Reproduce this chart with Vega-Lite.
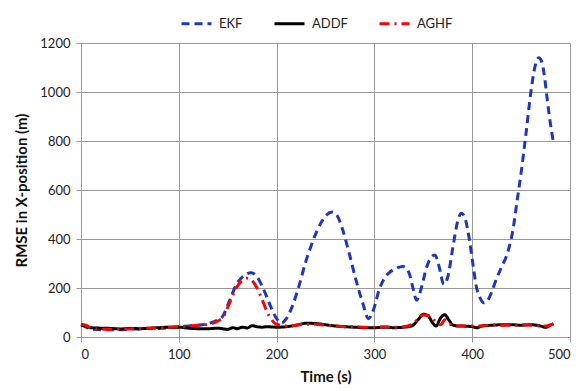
{
  "$schema": "https://vega.github.io/schema/vega-lite/v6.json",
  "autosize": "none",
  "width": 489,
  "height": 294,
  "padding": {"left": 81, "top": 43, "right": 15, "bottom": 54},
  "background": "white",
  "config": {
    "font": "Lato",
    "view": {"stroke": null},
    "axis": {
      "gridColor": "#999999",
      "gridWidth": 1,
      "domainColor": "#999999",
      "tickColor": "#999999",
      "tickSize": 5,
      "labelFontSize": 13,
      "labelColor": "#222222",
      "titleFontSize": 15,
      "titleFontWeight": "bold",
      "titleColor": "#111111"
    }
  },
  "data": {
    "values": [
      {"t": 0, "v": 50, "s": "EKF"}, {"t": 5, "v": 40, "s": "EKF"}, {"t": 10, "v": 33, "s": "EKF"}, {"t": 20, "v": 30, "s": "EKF"},
      {"t": 30, "v": 30, "s": "EKF"}, {"t": 40, "v": 30, "s": "EKF"}, {"t": 50, "v": 32, "s": "EKF"}, {"t": 60, "v": 33, "s": "EKF"},
      {"t": 70, "v": 35, "s": "EKF"}, {"t": 80, "v": 35, "s": "EKF"}, {"t": 90, "v": 38, "s": "EKF"}, {"t": 100, "v": 42, "s": "EKF"},
      {"t": 110, "v": 45, "s": "EKF"}, {"t": 120, "v": 48, "s": "EKF"}, {"t": 130, "v": 55, "s": "EKF"}, {"t": 140, "v": 70, "s": "EKF"},
      {"t": 145, "v": 85, "s": "EKF"}, {"t": 152, "v": 150, "s": "EKF"}, {"t": 159, "v": 215, "s": "EKF"}, {"t": 166, "v": 248, "s": "EKF"},
      {"t": 174, "v": 262, "s": "EKF"}, {"t": 180, "v": 245, "s": "EKF"}, {"t": 185, "v": 210, "s": "EKF"}, {"t": 190, "v": 163, "s": "EKF"},
      {"t": 196, "v": 105, "s": "EKF"}, {"t": 200, "v": 75, "s": "EKF"}, {"t": 205, "v": 57, "s": "EKF"}, {"t": 210, "v": 75, "s": "EKF"},
      {"t": 216, "v": 125, "s": "EKF"}, {"t": 223, "v": 210, "s": "EKF"}, {"t": 230, "v": 310, "s": "EKF"}, {"t": 236, "v": 380, "s": "EKF"},
      {"t": 241, "v": 430, "s": "EKF"}, {"t": 246, "v": 470, "s": "EKF"}, {"t": 251, "v": 498, "s": "EKF"}, {"t": 257, "v": 510, "s": "EKF"},
      {"t": 262, "v": 495, "s": "EKF"}, {"t": 267, "v": 445, "s": "EKF"}, {"t": 274, "v": 345, "s": "EKF"}, {"t": 281, "v": 235, "s": "EKF"},
      {"t": 288, "v": 140, "s": "EKF"}, {"t": 294, "v": 75, "s": "EKF"}, {"t": 299, "v": 110, "s": "EKF"}, {"t": 305, "v": 195, "s": "EKF"},
      {"t": 310, "v": 238, "s": "EKF"}, {"t": 315, "v": 262, "s": "EKF"}, {"t": 322, "v": 280, "s": "EKF"}, {"t": 329, "v": 288, "s": "EKF"},
      {"t": 333, "v": 280, "s": "EKF"}, {"t": 336, "v": 255, "s": "EKF"}, {"t": 340, "v": 190, "s": "EKF"}, {"t": 343, "v": 150, "s": "EKF"},
      {"t": 348, "v": 200, "s": "EKF"}, {"t": 353, "v": 280, "s": "EKF"}, {"t": 358, "v": 325, "s": "EKF"}, {"t": 362, "v": 335, "s": "EKF"},
      {"t": 366, "v": 290, "s": "EKF"}, {"t": 371, "v": 215, "s": "EKF"}, {"t": 375, "v": 245, "s": "EKF"}, {"t": 380, "v": 360, "s": "EKF"},
      {"t": 385, "v": 470, "s": "EKF"}, {"t": 389, "v": 505, "s": "EKF"}, {"t": 393, "v": 480, "s": "EKF"}, {"t": 397, "v": 400, "s": "EKF"},
      {"t": 401, "v": 290, "s": "EKF"}, {"t": 404, "v": 210, "s": "EKF"}, {"t": 408, "v": 160, "s": "EKF"}, {"t": 412, "v": 140, "s": "EKF"},
      {"t": 416, "v": 150, "s": "EKF"}, {"t": 420, "v": 185, "s": "EKF"}, {"t": 425, "v": 240, "s": "EKF"}, {"t": 430, "v": 285, "s": "EKF"},
      {"t": 435, "v": 330, "s": "EKF"}, {"t": 438, "v": 370, "s": "EKF"}, {"t": 442, "v": 445, "s": "EKF"}, {"t": 445, "v": 530, "s": "EKF"},
      {"t": 450, "v": 670, "s": "EKF"}, {"t": 455, "v": 830, "s": "EKF"}, {"t": 460, "v": 1000, "s": "EKF"}, {"t": 464, "v": 1100, "s": "EKF"},
      {"t": 468, "v": 1140, "s": "EKF"}, {"t": 471, "v": 1125, "s": "EKF"}, {"t": 474, "v": 1060, "s": "EKF"}, {"t": 477, "v": 960, "s": "EKF"},
      {"t": 480, "v": 870, "s": "EKF"}, {"t": 483, "v": 795, "s": "EKF"},

      {"t": 0, "v": 48, "s": "ADDF"}, {"t": 5, "v": 45, "s": "ADDF"}, {"t": 10, "v": 38, "s": "ADDF"}, {"t": 20, "v": 36, "s": "ADDF"},
      {"t": 30, "v": 35, "s": "ADDF"}, {"t": 40, "v": 33, "s": "ADDF"}, {"t": 50, "v": 35, "s": "ADDF"}, {"t": 60, "v": 34, "s": "ADDF"},
      {"t": 70, "v": 36, "s": "ADDF"}, {"t": 80, "v": 38, "s": "ADDF"}, {"t": 90, "v": 40, "s": "ADDF"}, {"t": 100, "v": 40, "s": "ADDF"},
      {"t": 110, "v": 36, "s": "ADDF"}, {"t": 120, "v": 34, "s": "ADDF"}, {"t": 130, "v": 34, "s": "ADDF"}, {"t": 140, "v": 36, "s": "ADDF"},
      {"t": 150, "v": 31, "s": "ADDF"}, {"t": 155, "v": 38, "s": "ADDF"}, {"t": 160, "v": 34, "s": "ADDF"}, {"t": 165, "v": 40, "s": "ADDF"},
      {"t": 170, "v": 37, "s": "ADDF"}, {"t": 175, "v": 46, "s": "ADDF"}, {"t": 180, "v": 42, "s": "ADDF"}, {"t": 185, "v": 40, "s": "ADDF"},
      {"t": 190, "v": 42, "s": "ADDF"}, {"t": 200, "v": 40, "s": "ADDF"}, {"t": 210, "v": 42, "s": "ADDF"}, {"t": 220, "v": 48, "s": "ADDF"},
      {"t": 230, "v": 56, "s": "ADDF"}, {"t": 240, "v": 55, "s": "ADDF"}, {"t": 250, "v": 50, "s": "ADDF"}, {"t": 260, "v": 45, "s": "ADDF"},
      {"t": 270, "v": 42, "s": "ADDF"}, {"t": 280, "v": 40, "s": "ADDF"}, {"t": 290, "v": 38, "s": "ADDF"}, {"t": 300, "v": 38, "s": "ADDF"},
      {"t": 310, "v": 40, "s": "ADDF"}, {"t": 320, "v": 38, "s": "ADDF"}, {"t": 330, "v": 40, "s": "ADDF"}, {"t": 338, "v": 45, "s": "ADDF"},
      {"t": 345, "v": 72, "s": "ADDF"}, {"t": 350, "v": 93, "s": "ADDF"}, {"t": 355, "v": 86, "s": "ADDF"}, {"t": 360, "v": 55, "s": "ADDF"},
      {"t": 363, "v": 45, "s": "ADDF"}, {"t": 368, "v": 80, "s": "ADDF"}, {"t": 372, "v": 91, "s": "ADDF"}, {"t": 376, "v": 70, "s": "ADDF"},
      {"t": 380, "v": 50, "s": "ADDF"}, {"t": 385, "v": 45, "s": "ADDF"}, {"t": 395, "v": 44, "s": "ADDF"}, {"t": 400, "v": 42, "s": "ADDF"},
      {"t": 405, "v": 38, "s": "ADDF"}, {"t": 410, "v": 45, "s": "ADDF"}, {"t": 420, "v": 48, "s": "ADDF"}, {"t": 430, "v": 50, "s": "ADDF"},
      {"t": 440, "v": 50, "s": "ADDF"}, {"t": 450, "v": 48, "s": "ADDF"}, {"t": 460, "v": 50, "s": "ADDF"}, {"t": 470, "v": 45, "s": "ADDF"},
      {"t": 475, "v": 40, "s": "ADDF"}, {"t": 480, "v": 48, "s": "ADDF"}, {"t": 483, "v": 55, "s": "ADDF"},

      {"t": 0, "v": 52, "s": "AGHF"}, {"t": 5, "v": 48, "s": "AGHF"}, {"t": 10, "v": 38, "s": "AGHF"}, {"t": 20, "v": 32, "s": "AGHF"},
      {"t": 30, "v": 32, "s": "AGHF"}, {"t": 40, "v": 33, "s": "AGHF"}, {"t": 50, "v": 33, "s": "AGHF"}, {"t": 60, "v": 35, "s": "AGHF"},
      {"t": 70, "v": 36, "s": "AGHF"}, {"t": 80, "v": 37, "s": "AGHF"}, {"t": 90, "v": 40, "s": "AGHF"}, {"t": 100, "v": 42, "s": "AGHF"},
      {"t": 110, "v": 45, "s": "AGHF"}, {"t": 120, "v": 48, "s": "AGHF"}, {"t": 130, "v": 52, "s": "AGHF"}, {"t": 140, "v": 65, "s": "AGHF"},
      {"t": 145, "v": 80, "s": "AGHF"}, {"t": 152, "v": 140, "s": "AGHF"}, {"t": 158, "v": 195, "s": "AGHF"}, {"t": 164, "v": 228, "s": "AGHF"},
      {"t": 170, "v": 240, "s": "AGHF"}, {"t": 175, "v": 230, "s": "AGHF"}, {"t": 180, "v": 200, "s": "AGHF"}, {"t": 185, "v": 155, "s": "AGHF"},
      {"t": 190, "v": 105, "s": "AGHF"}, {"t": 195, "v": 70, "s": "AGHF"}, {"t": 200, "v": 52, "s": "AGHF"}, {"t": 210, "v": 45, "s": "AGHF"},
      {"t": 220, "v": 48, "s": "AGHF"}, {"t": 230, "v": 52, "s": "AGHF"}, {"t": 240, "v": 52, "s": "AGHF"}, {"t": 250, "v": 48, "s": "AGHF"},
      {"t": 260, "v": 45, "s": "AGHF"}, {"t": 270, "v": 42, "s": "AGHF"}, {"t": 280, "v": 42, "s": "AGHF"}, {"t": 290, "v": 40, "s": "AGHF"},
      {"t": 300, "v": 40, "s": "AGHF"}, {"t": 310, "v": 42, "s": "AGHF"}, {"t": 320, "v": 40, "s": "AGHF"}, {"t": 330, "v": 42, "s": "AGHF"},
      {"t": 340, "v": 55, "s": "AGHF"}, {"t": 345, "v": 75, "s": "AGHF"}, {"t": 350, "v": 90, "s": "AGHF"}, {"t": 355, "v": 88, "s": "AGHF"},
      {"t": 360, "v": 72, "s": "AGHF"}, {"t": 365, "v": 55, "s": "AGHF"}, {"t": 368, "v": 50, "s": "AGHF"}, {"t": 372, "v": 70, "s": "AGHF"},
      {"t": 376, "v": 55, "s": "AGHF"}, {"t": 380, "v": 48, "s": "AGHF"}, {"t": 390, "v": 45, "s": "AGHF"}, {"t": 400, "v": 45, "s": "AGHF"},
      {"t": 410, "v": 45, "s": "AGHF"}, {"t": 420, "v": 50, "s": "AGHF"}, {"t": 430, "v": 48, "s": "AGHF"}, {"t": 440, "v": 48, "s": "AGHF"},
      {"t": 450, "v": 50, "s": "AGHF"}, {"t": 460, "v": 48, "s": "AGHF"}, {"t": 470, "v": 45, "s": "AGHF"}, {"t": 475, "v": 45, "s": "AGHF"},
      {"t": 480, "v": 50, "s": "AGHF"}, {"t": 483, "v": 52, "s": "AGHF"}
    ]
  },
  "mark": {"type": "line", "strokeWidth": 3, "interpolate": "monotone"},
  "encoding": {
    "x": {
      "field": "t", "type": "quantitative", "title": "Time (s)",
      "scale": {"domain": [0, 500], "nice": false},
      "axis": {"values": [0, 100, 200, 300, 400, 500], "format": "d", "labelPadding": 6, "titlePadding": 8}
    },
    "y": {
      "field": "v", "type": "quantitative", "title": "RMSE in X-position (m)",
      "scale": {"domain": [0, 1200], "nice": false},
      "axis": {"values": [0, 200, 400, 600, 800, 1000, 1200], "format": "d", "labelPadding": 6, "titlePadding": 10}
    },
    "color": {
      "field": "s", "type": "nominal",
      "scale": {"domain": ["EKF", "ADDF", "AGHF"], "range": ["#1f37b8", "#000000", "#ff0000"]},
      "legend": {
        "title": null, "orient": "none", "direction": "horizontal",
        "legendX": 99, "legendY": -36,
        "symbolType": "stroke", "symbolSize": 900, "symbolStrokeWidth": 3,
        "labelFontSize": 13, "labelColor": "#222222", "columnPadding": 25, "labelOffset": 6
      }
    },
    "strokeDash": {
      "field": "s", "type": "nominal",
      "scale": {"domain": ["EKF", "ADDF", "AGHF"], "range": [[8, 5], [1, 0], [10, 5, 2, 5]]},
      "legend": null
    }
  }
}
